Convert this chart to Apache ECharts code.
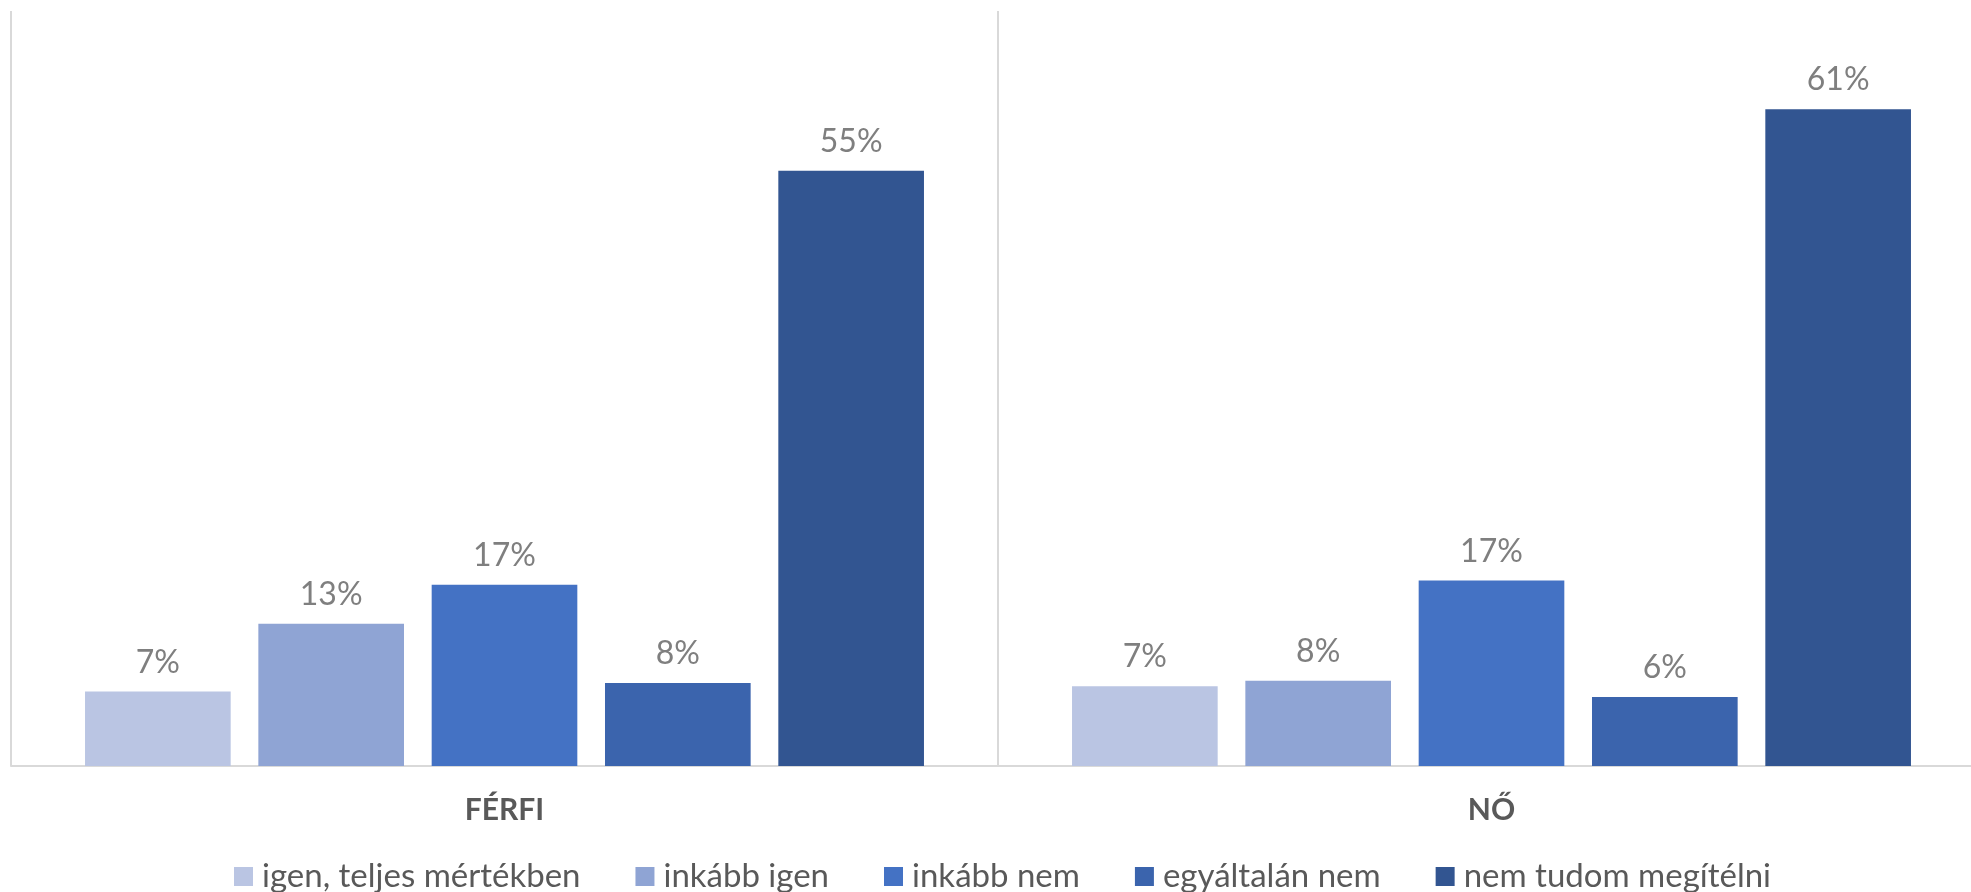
<!DOCTYPE html>
<html>
<head>
<meta charset="utf-8">
<script src="https://cdn.jsdelivr.net/npm/echarts@6/dist/echarts.min.js"></script>
<style>
html,body{margin:0;padding:0;background:#fff;overflow:hidden;}
#chart{width:1971px;height:892px;}
</style>
</head>
<body>
<div id="chart"></div>
<script>
const categories = ['FÉRFI', 'NŐ'];
const seriesNames = ['igen, teljes mértékben', 'inkább igen', 'inkább nem', 'egyáltalán nem', 'nem tudom megítélni'];
const igenTeljes = [6.9, 7.4];
const inkabbIgen = [13.2, 7.9];
const inkabbNem = [16.8, 17.2];
const egyaltalanNem = [7.7, 6.4];
const nemTudom = [55.2, 60.9];
const colors = ['#BAC5E3', '#8FA4D4', '#4472C4', '#3B64AD', '#325591'];

const values = [igenTeljes, inkabbIgen, inkabbNem, egyaltalanNem, nemTudom];
const FONT = 'Lato, "Open Sans", sans-serif';

const chart = echarts.init(document.getElementById('chart'), null, {renderer: 'canvas'});
chart.setOption({
  animation: false,
  backgroundColor: '#ffffff',
  grid: {left: 11, width: 1974, top: 11, bottom: 126, containLabel: false, outerBoundsMode: 'none'},
  legend: {
    data: seriesNames,
    left: 229,
    top: 855,
    icon: 'path://M0 0H10V10H0Z',
    itemWidth: 27,
    itemHeight: 19,
    itemGap: 55,
    textStyle: {fontFamily: FONT, fontSize: 33, color: '#595959'}
  },
  xAxis: {
    type: 'category',
    data: categories,
    axisLine: {show: true, lineStyle: {color: '#D9D9D9', width: 2}},
    axisTick: {show: false},
    splitLine: {show: true, lineStyle: {color: '#D9D9D9', width: 2}},
    axisLabel: {
      margin: 29,
      fontFamily: FONT,
      fontSize: 30,
      fontWeight: 'bold',
      color: '#595959'
    }
  },
  yAxis: {
    type: 'value',
    min: 0,
    max: 70,
    show: false,
    splitLine: {show: false}
  },
  series: seriesNames.map((name, i) => ({
    name: name,
    type: 'bar',
    data: values[i],
    barGap: '19%',
    barCategoryGap: '15%',
    itemStyle: {color: colors[i]},
    label: {
      show: true,
      position: 'top',
      distance: 13,
      fontFamily: FONT,
      fontSize: 32,
      color: '#7F7F7F',
      formatter: p => Math.round(p.value) + '%'
    }
  }))
});
</script>
</body>
</html>
